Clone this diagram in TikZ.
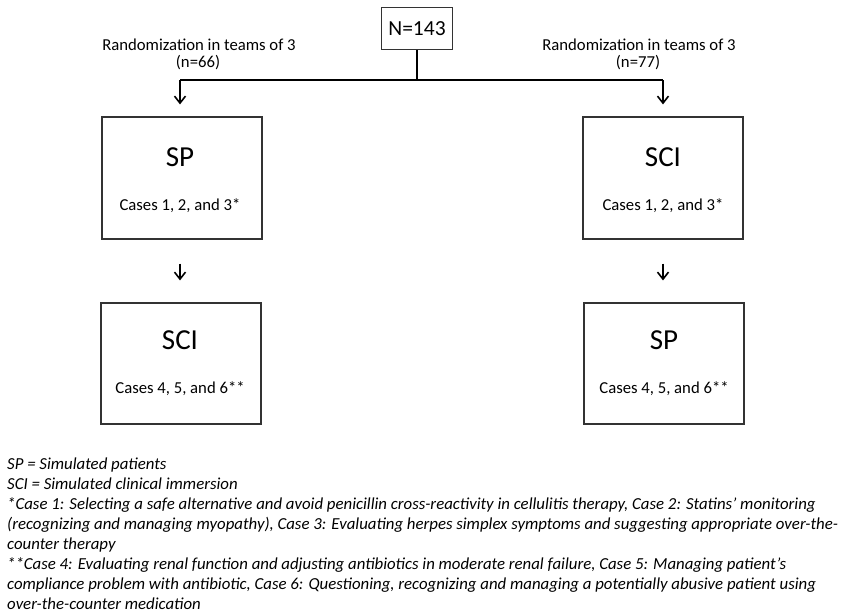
\documentclass[tikz,border=0pt]{standalone}
\usepackage{fontspec}
\setmainfont{Carlito}
\usetikzlibrary{arrows.meta}
\begin{document}
\begin{tikzpicture}[x=1pt,y=-1pt,font=\fontsize{16.7}{19}\selectfont,
  box/.style={draw=black!80, line width=1.2pt, minimum width=160pt, minimum height=122pt},
  link/.style={line width=1.6pt},
  arr/.style={line width=1.6pt, -{Straight Barb[length=7pt,width=11pt,line width=1.6pt]}}]
\useasboundingbox (0,0) rectangle (846,613);

\node[draw=black!80, line width=1.2pt, minimum width=71pt, minimum height=42pt,
  font=\fontsize{21.5}{24}\selectfont] (total) at(417,28.5){N=143};

\node (randL) at(199,45){Randomization in teams of 3};
\node (nL) at(198,63){(n=66)};
\node (randR) at(639,45){Randomization in teams of 3};
\node (nR) at(638,63){(n=77)};

\node[box] (spL) at(182,178){};
\node[box] (sciR) at(663,178){};
\node[box, minimum height=121pt] (sciL) at(181,363.5){};
\node[box, minimum height=121pt] (spR) at(664,363.5){};

\node[font=\fontsize{29}{32}\selectfont] (spLt) at(180,157){SP};
\node (spLc) at(180,206){Cases 1, 2, and 3*};
\node[font=\fontsize{29}{32}\selectfont] (sciRt) at(663,157){SCI};
\node (sciRc) at(663,206){Cases 1, 2, and 3*};
\node[font=\fontsize{29}{32}\selectfont] (sciLt) at(180,340){SCI};
\node (sciLc) at(180,389){Cases 4, 5, and 6**};
\node[font=\fontsize{29}{32}\selectfont] (spRt) at(664,340){SP};
\node (spRc) at(664,389){Cases 4, 5, and 6**};

% split of the group
\coordinate (jL) at(180,80);
\coordinate (jR) at(663,80);
\draw[link] (total.south) -- (total.south |- jL);
\draw[link] (jL) -- (jR);
\draw[arr] (jL) -- (jL |- spL.north) [shorten >=12pt];
\draw[arr] (jR) -- (jR |- sciR.north) [shorten >=12pt];

% crossover
\draw[arr, shorten <=24pt, shorten >=22pt] (spL.south -| spLt) -- (sciL.north -| spLt);
\draw[arr, shorten <=24pt, shorten >=22pt] (sciR.south -| sciRt) -- (spR.north -| sciRt);

\node[anchor=north west, align=left, inner sep=0pt,
  font=\fontsize{16.8}{19.9}\selectfont\itshape] (notes) at(7,458){%
SP = Simulated patients\\
SCI = Simulated clinical immersion\\
*Case 1: Selecting a safe alternative and avoid penicillin cross-reactivity in cellulitis therapy, Case 2: Statins’ monitoring\\
(recognizing and managing myopathy), Case 3: Evaluating herpes simplex symptoms and suggesting appropriate over-the-\\
counter therapy\\
**Case 4: Evaluating renal function and adjusting antibiotics in moderate renal failure, Case 5: Managing patient’s\\
compliance problem with antibiotic, Case 6: Questioning, recognizing and managing a potentially abusive patient using\\
over-the-counter medication};
\end{tikzpicture}
\end{document}
